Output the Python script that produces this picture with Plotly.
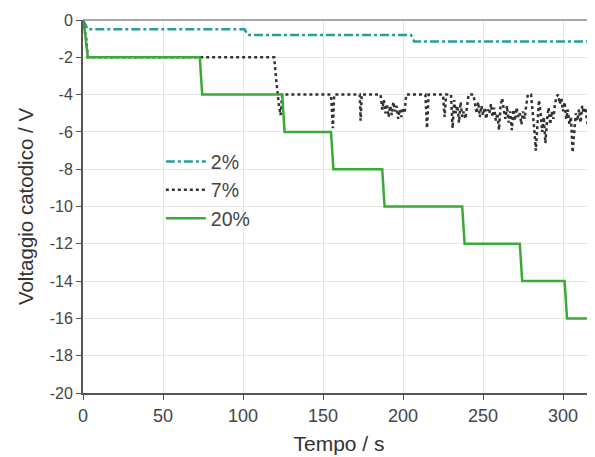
import plotly.graph_objects as go

# ---- data ----
t_2 = [0, 3, 101, 103, 205, 207, 320]
v_2 = [0, -0.5, -0.5, -0.8, -0.8, -1.15, -1.15]

t_7 = [0, 2, 3, 119.5, 120.5, 121.5, 122.5, 123.5, 124.5, 155, 155.6, 156.2, 157,
       173, 173.5, 174.2, 186, 187, 188, 189, 190, 191, 192, 193, 194, 195, 196,
       197, 198, 199, 200, 201, 202, 214, 215, 216, 225, 226, 227, 230, 231, 232,
       233, 234, 235, 236, 237, 238, 239, 240, 241, 244, 245, 246, 247, 248, 249,
       250, 251, 252, 253, 254, 255, 256, 257, 258, 259, 260, 261, 262, 263, 264,
       265, 266, 267, 268, 269, 270, 271, 272, 273, 274, 275, 276, 277, 278, 280,
       281, 282, 283, 284, 285, 286, 287, 288, 289, 290, 291, 292, 293, 294, 295,
       296, 297, 298, 299, 300, 301, 302, 303, 304, 305, 306, 307, 308, 309, 310,
       311, 312, 313, 314, 315, 316, 317, 318, 319, 320]
v_7 = [0, -1, -2, -2, -3, -4, -4.6, -5.1, -4, -4, -5.0, -5.8, -4,
       -4, -5.4, -4, -4, -4.8, -4.3, -5.0, -4.5, -5.2, -4.6, -5.1, -4.4, -4.9, -4.6,
       -5.3, -4.8, -5.2, -4.7, -5.0, -4, -4, -5.8, -4, -4, -5.2, -4, -4, -5.8, -4.3,
       -5.0, -4.6, -5.5, -4.4, -5.2, -4.9, -5.3, -4.6, -4.0, -4.0, -4.5, -5.0, -4.4, -5.2, -4.6,
       -5.1, -4.7, -5.3, -4.8, -5.0, -4.5, -5.2, -4.7, -5.4, -5.0, -5.9, -4.6, -4.2, -4.8, -5.3,
       -4.6, -5.5, -4.9, -5.9, -4.8, -5.4, -4.7, -5.2, -5.0, -5.6, -4.9, -5.3, -4.6, -4.0, -4.0,
       -4.8, -5.8, -7.0, -5.5, -4.3, -5.0, -6.0, -5.2, -6.6, -5.4, -4.7, -5.6, -4.9, -5.3, -4.5,
       -4.1, -4.0, -4.5, -4.2, -4.9, -4.4, -5.3, -4.8, -5.6, -5.2, -7.1, -5.8, -5.0, -5.4, -4.8,
       -5.5, -4.6, -5.0, -4.7, -5.4, -5.8, -6.8, -6.0, -7.2, -6.9]

t_20 = [0, 1, 3, 73, 74.5, 124.5, 126, 155, 156.5, 187, 188.5, 237, 238.5, 273, 274.5, 301, 302.5, 320]
v_20 = [0, -0.5, -2, -2, -4, -4, -6, -6, -8, -8, -10, -10, -12, -12, -14, -14, -16, -16]

x_ticks = [0, 50, 100, 150, 200, 250, 300]
y_ticks = [0, -2, -4, -6, -8, -10, -12, -14, -16, -18, -20]
y_tick_labels = ["0", "-2", "-4", "-6", "-8", "-10", "-12", "-14", "-16", "-18", "-20"]

FONT = "Liberation Sans, Arial, sans-serif"

fig = go.Figure()
fig.add_trace(go.Scatter(x=t_2, y=v_2, mode="lines", name="2%",
                         line=dict(color="#2a9d98", width=2.5, dash="dashdot")))
fig.add_trace(go.Scatter(x=t_7, y=v_7, mode="lines", name="7%",
                         line=dict(color="#333333", width=2.5, dash="dot")))
fig.add_trace(go.Scatter(x=t_20, y=v_20, mode="lines", name="20%",
                         line=dict(color="#3aaa35", width=2.5)))

# top frame line (lighter than the axes)
fig.add_shape(type="line", xref="paper", yref="paper", x0=0, x1=1, y0=1, y1=1,
              line=dict(color="#8a8a8a", width=1.5))

fig.update_layout(
    width=587, height=449,
    margin=dict(l=75, r=0, t=12, b=64),
    paper_bgcolor="white", plot_bgcolor="white",
    font=dict(family=FONT, color="#444444"),
    showlegend=True,
    legend=dict(x=0.152, y=0.672, xanchor="left", yanchor="top",
                bgcolor="rgba(0,0,0,0)", font=dict(size=19.5, color="#444444"),
                itemwidth=40, tracegroupgap=0),
    xaxis=dict(range=[0, 320], tickvals=x_ticks, showgrid=True, gridcolor="#e6e6e6",
               gridwidth=1, zeroline=False, showline=True, linecolor="#555555",
               linewidth=2, ticks="outside", ticklen=5, tickcolor="#555555",
               tickfont=dict(size=18, color="#444444"),
               title=dict(text="Tempo / s", font=dict(size=21, color="#333333"), standoff=12)),
    yaxis=dict(range=[-20, 0], tickvals=y_ticks, ticktext=y_tick_labels, showgrid=True,
               gridcolor="#e6e6e6", gridwidth=1, zeroline=False, showline=True,
               linecolor="#555555", linewidth=2, ticks="outside", ticklen=5,
               tickcolor="#555555", tickfont=dict(size=16, color="#444444"),
               title=dict(text="Voltaggio catodico / V", font=dict(size=20.5, color="#333333"),
                          standoff=10)),
)

fig.write_html("out.html")
